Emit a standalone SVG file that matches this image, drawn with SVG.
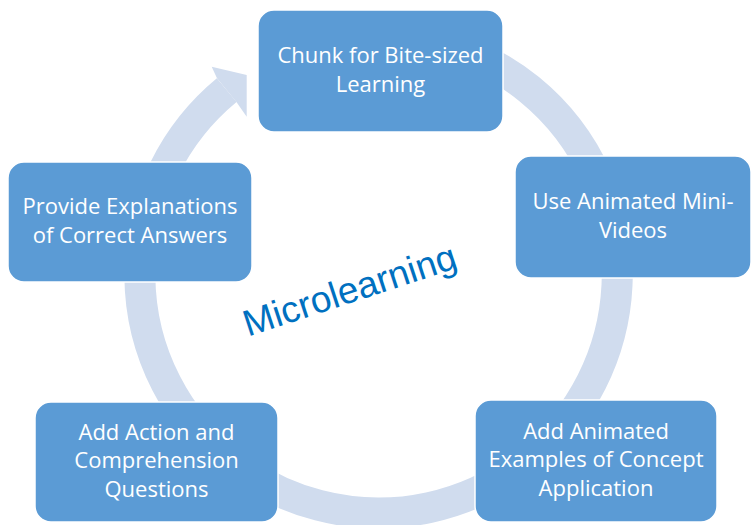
<svg xmlns="http://www.w3.org/2000/svg" width="752" height="525" viewBox="0 0 752 525">
  <style>
    .node rect { fill: #5B9BD5; stroke: #FFFFFF; stroke-width: 1.5; }
    .node text { fill: #FFFFFF; font-family: "Open Sans", "Noto Sans", sans-serif; font-size: 22px; text-anchor: middle; }
    .ring { fill: none; stroke: #D0DCEE; stroke-width: 31; }
    .head { fill: #D0DCEE; }
    .title { fill: #0070C0; font-family: "Liberation Sans", Arial, sans-serif; font-size: 37px; text-anchor: middle; }
  </style>
  <rect width="752" height="525" fill="#FFFFFF"/>
  <g id="connectors">
    <path class="ring" d="M 440.3 43.7 A 238.7 238.7 0 1 1 226.7 90.1"/>
    <polygon class="head" points="217,78.3 211.7,66.7 246.7,75 246.7,116.7 236.6,102.2"/>
  </g>
  <g id="title">
    <text class="title" x="353.5" y="302" transform="rotate(-18.2 353.5 302)">Microlearning</text>
  </g>
  <g id="node1" class="node">
    <rect x="258" y="10" width="245" height="122" rx="16"/>
    <text x="380.5" y="63">Chunk for Bite-sized</text>
    <text x="380.5" y="91.5">Learning</text>
  </g>
  <g id="node2" class="node">
    <rect x="515" y="156" width="236" height="122" rx="16"/>
    <text x="633" y="209">Use Animated Mini-</text>
    <text x="633" y="237.5">Videos</text>
  </g>
  <g id="node3" class="node">
    <rect x="475" y="400" width="242" height="122" rx="16"/>
    <text x="596" y="438.5">Add Animated</text>
    <text x="596" y="467">Examples of Concept</text>
    <text x="596" y="495.5">Application</text>
  </g>
  <g id="node4" class="node">
    <rect x="35" y="402" width="243" height="120" rx="16"/>
    <text x="156.5" y="439.5">Add Action and</text>
    <text x="156.5" y="468">Comprehension</text>
    <text x="156.5" y="496.5">Questions</text>
  </g>
  <g id="node5" class="node">
    <rect x="8" y="162" width="244" height="120" rx="16"/>
    <text x="130" y="214">Provide Explanations</text>
    <text x="130" y="242.5">of Correct Answers</text>
  </g>
</svg>
